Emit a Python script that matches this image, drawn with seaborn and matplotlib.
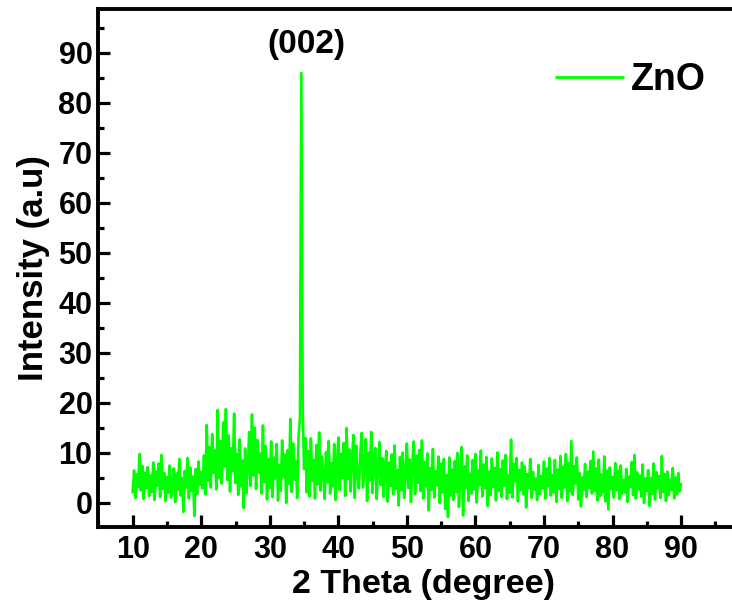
import numpy as np
import pandas as pd
import matplotlib
matplotlib.use("Agg")
import matplotlib.pyplot as plt
from matplotlib.ticker import MultipleLocator
import seaborn as sns

# Scan axis: 2-theta from 10 to 90 degrees, 0.2 degree step
two_theta = np.round(np.arange(10.0, 90.0001, 0.2), 1)

# Measured counts, one row per degree (5 points per row), last point at 90
intensity = [
    2.1, 6.5, 1.0, 5.8, 3.2,
    9.8, 2.5, 7.4, 0.8, 6.1,
    3.0, 7.2, 1.4, 5.5, 2.2,
    8.1, 0.6, 6.3, 3.5, 7.9,
    1.2, 9.6, 2.8, 6.0, 0.4,
    5.2, 2.0, 7.5, 1.1, 4.8,
    6.9, 0.2, 5.9, 2.6, 8.8,
    1.5, 5.0, -1.8, 6.4, 3.1,
    9.0, 0.9, 7.1, 2.4, 5.3,
    -2.6, 6.8, 1.8, 8.3, 3.6,
    6.2, 2.9, 9.5, 1.7, 15.6,
    4.4, 11.2, 3.1, 13.8, 6.0,
    10.5, 2.7, 18.6, 5.1, 12.4,
    3.9, 16.1, 7.3, 18.8, 4.6,
    13.5, 2.3, 11.0, 6.4, 17.9,
    4.0, 9.8, 1.6, 12.7, 3.3,
    8.5, -1.0, 10.9, 2.0, 7.6,
    14.2, 3.4, 17.7, 5.5, 15.1,
    2.8, 12.6, 6.1, 9.9, 1.9,
    15.5, 4.2, 11.4, 0.7, 8.8,
    3.0, 12.3, 1.2, 9.1, 4.9,
    11.8, 0.5, 7.6, 2.4, 12.5,
    5.3, 9.7, 0.0, 10.6, 3.8,
    16.8, 2.2, 11.9, 4.7, 8.4,
    1.0, 13.2, 17.0, 86.0, 19.5,
    6.8, 13.0, 2.1, 10.4, 1.3,
    12.9, 4.4, 8.6, 0.9, 11.6,
    3.7, 14.1, 2.5, 9.3, 5.8,
    0.8, 10.2, 4.1, 12.4, 1.9,
    8.0, 3.3, 11.8, 0.6, 7.4,
    13.1, 2.6, 9.9, 5.0, 12.0,
    1.4, 15.0, 4.8, 10.7, 2.3,
    8.9, 13.6, 1.0, 11.5, 5.4,
    2.9, 9.6, 14.0, 3.1, 7.7,
    12.8, 0.4, 10.1, 4.5, 14.2,
    2.0, 8.3, 11.0, 0.8, 6.9,
    12.2, 3.6, 9.0, 1.2, 7.1,
    10.4, 0.3, 8.1, 3.4, 9.7,
    1.7, 11.5, 2.8, 6.6, -0.5,
    9.2, 2.5, 10.1, 1.0, 5.7,
    11.9, 3.0, 8.7, 0.2, 7.8,
    12.3, 1.8, 9.5, 4.0, 10.6,
    2.4, 12.5, 0.9, 8.2, 3.3,
    9.9, -1.5, 7.0, 2.6, 10.8,
    1.1, 6.4, 3.5, 9.3, 0.0,
    7.9, 2.1, 8.8, -1.2, 5.6,
    -2.8, 9.1, 1.5, 6.7, 0.6,
    8.4, 2.2, 10.0, -0.8, 6.0,
    11.2, -2.5, 7.3, 3.0, 9.5,
    0.4, 5.9, 1.9, 8.6, 2.7,
    9.8, 0.1, 6.5, 3.6, 10.5,
    1.3, 7.7, 2.9, 9.2, -0.6,
    6.3, 1.6, 8.9, 3.2, 7.0,
    0.5, 10.1, 2.4, 6.8, 1.2,
    8.5, 3.4, 9.6, 0.8, 5.5,
    2.0, 12.7, 1.1, 7.9, 4.3,
    9.0, 0.3, 6.6, 2.5, 8.1,
    1.7, 7.3, -0.9, 5.8, 3.0,
    8.8, 1.0, 6.2, 2.7, 4.9,
    0.6, 7.6, 1.8, 5.4, 2.9,
    8.3, 0.9, 6.9, 3.3, 9.0,
    1.5, 5.6, 2.1, 8.6, 0.2,
    6.7, 2.8, 9.4, 1.0, 7.2,
    3.1, 9.8, 0.4, 8.0, 2.3,
    12.4, 1.6, 7.4, 3.9, 9.1,
    0.7, 6.0, -0.7, 5.1, 2.6,
    7.8, 1.2, 6.3, 3.0, 8.4,
    1.9, 10.3, 2.4, 6.9, 0.5,
    8.7, 1.4, 5.7, 2.2, 9.3,
    0.3, 6.5, -1.3, 7.1, 2.8,
    5.2, 1.1, 8.0, 2.5, 6.4,
    0.8, 7.5, 1.9, 4.6, 2.1,
    6.8, 0.2, 5.3, 3.2, 8.2,
    1.6, 9.6, 0.9, 6.1, 2.7,
    5.5, 1.3, 7.7, 0.0, 4.9,
    2.4, 6.6, -0.6, 5.0, 1.8,
    7.9, 0.7, 6.2, 2.9, 5.4,
    1.0, 9.4, 2.2, 5.8, 0.4,
    6.3, 1.5, 4.7, 2.6, 7.0,
    0.9, 5.1, 1.7, 6.0, 2.3,
    3.8,
]

sample_name = "ZnO"
peak_label = "(002)"
peak_label_pos = (35.4, 91.6)
x_major = [10, 20, 30, 40, 50, 60, 70, 80, 90]
y_major = [0, 10, 20, 30, 40, 50, 60, 70, 80, 90]

df = pd.DataFrame({"two_theta": two_theta, "intensity": intensity})

sns.set_style("ticks")
plt.rcParams["font.family"] = ["Liberation Sans", "DejaVu Sans"]
plt.rcParams["font.weight"] = "bold"
plt.rcParams["axes.labelweight"] = "bold"
plt.rcParams["text.color"] = "black"
plt.rcParams["axes.labelcolor"] = "black"
plt.rcParams["xtick.color"] = "black"
plt.rcParams["ytick.color"] = "black"

fig = plt.figure(figsize=(7.32, 6.09), dpi=100)
ax_left, ax_right = 98 / 732, 749.6 / 732
ax = fig.add_axes([ax_left, 82 / 609, ax_right - ax_left, 518 / 609])

sns.lineplot(data=df, x="two_theta", y="intensity", ax=ax,
             color="#00FF00", linewidth=1.9, label=sample_name,
             estimator=None, sort=False)

ax.set_xlim(4.94, 100)
ax.set_ylim(-4.8, 98.8)
ax.set_xticks(x_major)
ax.set_yticks(y_major)
ax.xaxis.set_minor_locator(MultipleLocator(5))
ax.yaxis.set_minor_locator(MultipleLocator(5))

ax.tick_params(axis="both", which="major", direction="in", length=8.5,
               width=2.3, labelsize=22, colors="black")
ax.tick_params(axis="both", which="minor", direction="in", length=4.5,
               width=2.3, colors="black")
ax.tick_params(axis="x", which="major", pad=6)
ax.tick_params(axis="y", which="major", pad=4)
for lab in ax.get_xticklabels() + ax.get_yticklabels():
    lab.set_fontweight("bold")

for side in ["left", "bottom", "top"]:
    ax.spines[side].set_linewidth(2.8)
    ax.spines[side].set_color("black")
ax.spines["right"].set_visible(False)

ax.set_xlabel("2 Theta (degree)", fontsize=24.5, fontweight="bold", labelpad=3)
ax.set_ylabel("Intensity (a.u)", fontsize=25, fontweight="bold", labelpad=6)

ax.text(*peak_label_pos, peak_label, ha="center", va="center",
        fontsize=24, fontweight="bold")

# legend anchored so its right edge sits near pixel 706
anchor_x = (706 / 732 - ax_left) / (ax_right - ax_left)
leg = ax.legend(loc="upper right", bbox_to_anchor=(anchor_x, 0.897),
                frameon=False, fontsize=27, handlelength=1.8,
                handletextpad=0.2, borderaxespad=0, borderpad=0)
for txt in leg.get_texts():
    txt.set_fontweight("bold")
for h in leg.get_lines():
    h.set_linewidth(2)

fig.savefig("out.png", dpi=100)
